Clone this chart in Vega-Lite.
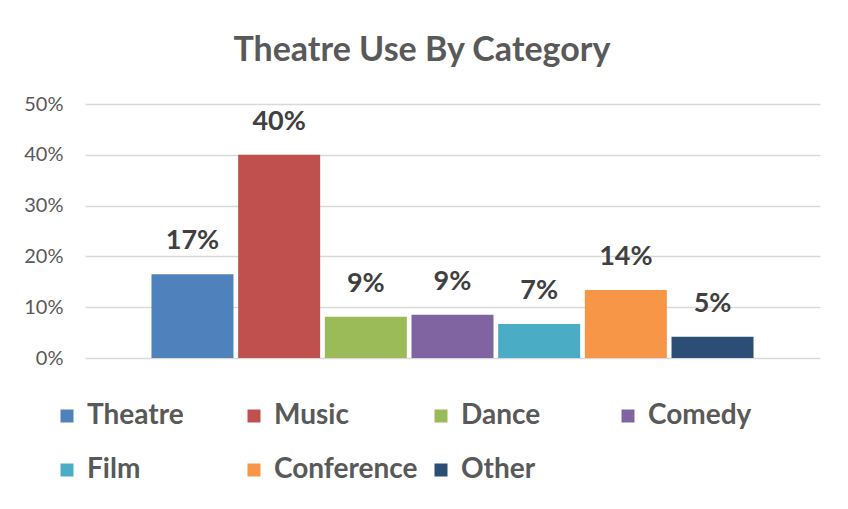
{
  "$schema": "https://vega.github.io/schema/vega-lite/v6.json",
  "width": 735,
  "height": 254,
  "autosize": {"type": "none"},
  "padding": {"left": 85, "top": 104, "right": 28, "bottom": 151},
  "background": "white",
  "title": {
    "text": "Theatre Use By Category",
    "font": "Lato",
    "fontSize": 34,
    "fontWeight": "bold",
    "color": "#595959",
    "anchor": "middle",
    "frame": "bounds",
    "offset": 26
  },
  "data": {
    "values": [
      {"category": "Theatre", "value": 0.165, "label": "17%"},
      {"category": "Music", "value": 0.40, "label": "40%"},
      {"category": "Dance", "value": 0.081, "label": "9%"},
      {"category": "Comedy", "value": 0.085, "label": "9%"},
      {"category": "Film", "value": 0.067, "label": "7%"},
      {"category": "Conference", "value": 0.134, "label": "14%"},
      {"category": "Other", "value": 0.042, "label": "5%"}
    ]
  },
  "encoding": {
    "x": {
      "field": "category",
      "type": "nominal",
      "sort": null,
      "axis": null,
      "scale": {"paddingInner": 0.054, "paddingOuter": 0.767}
    },
    "y": {
      "field": "value",
      "type": "quantitative",
      "scale": {"domain": [0, 0.5]},
      "axis": {
        "title": null,
        "format": ".0%",
        "values": [0, 0.1, 0.2, 0.3, 0.4, 0.5],
        "domain": false,
        "ticks": false,
        "labelFont": "Lato",
        "labelFontSize": 20,
        "labelColor": "#595959",
        "labelPadding": 22,
        "gridColor": "#d9d9d9",
        "gridWidth": 1.5
      }
    }
  },
  "layer": [
    {
      "mark": {"type": "bar"},
      "encoding": {
        "color": {
          "field": "category",
          "type": "nominal",
          "sort": null,
          "scale": {
            "domain": ["Theatre", "Music", "Dance", "Comedy", "Film", "Conference", "Other"],
            "range": ["#4F81BD", "#C0504D", "#9BBB59", "#8064A2", "#4BACC6", "#F79646", "#2C4D75"]
          },
          "legend": {
            "title": null,
            "orient": "none",
            "legendX": -32,
            "legendY": 298,
            "direction": "horizontal",
            "columns": 4,
            "gridAlign": "all",
            "columnPadding": 9,
            "rowPadding": 26,
            "symbolType": "square",
            "symbolSize": 169,
            "symbolStrokeWidth": 0,
            "labelFont": "Lato",
            "labelFontSize": 28,
            "labelFontWeight": "bold",
            "labelColor": "#595959",
            "labelLimit": 300,
            "labelOffset": 6
          }
        }
      }
    },
    {
      "mark": {
        "type": "text",
        "baseline": "bottom",
        "dy": -19,
        "font": "Lato",
        "fontSize": 27,
        "fontWeight": "bold",
        "color": "#404040"
      },
      "encoding": {"text": {"field": "label"}}
    }
  ],
  "config": {"view": {"stroke": null}}
}
